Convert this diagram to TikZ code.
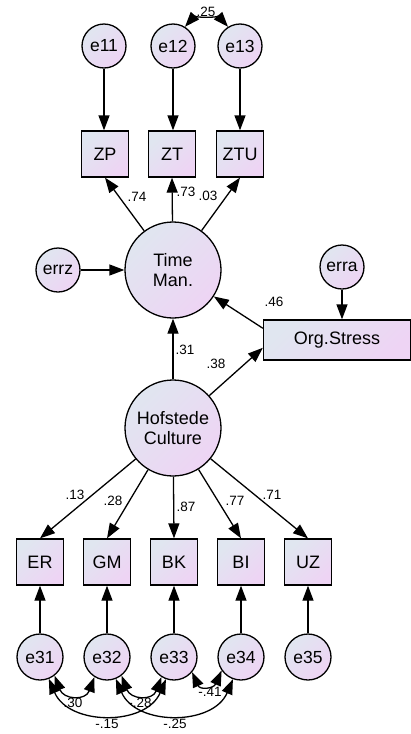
\documentclass[tikz,border=0pt]{standalone}
\usepackage{fontspec}
\setmainfont{Liberation Sans}
\usetikzlibrary{arrows.meta}
\definecolor{fillA}{RGB}{224,230,240}
\definecolor{fillB}{RGB}{238,212,244}
\begin{document}
\begin{tikzpicture}[x=1pt,y=-1pt,
  shadefill/.style={top color=fillA,bottom color=fillB,shading angle=45},
  errnode/.style={circle,draw=black,line width=1.3pt,shadefill,minimum size=44pt,
    inner sep=0pt,font=\fontsize{17.5}{19}\selectfont},
  latent/.style={circle,draw=black,line width=1.3pt,shadefill,minimum size=96pt,
    inner sep=0pt,align=center,font=\fontsize{18}{20}\selectfont},
  obs/.style={rectangle,draw=black,line width=1.3pt,shadefill,minimum width=47pt,
    minimum height=46pt,inner sep=0pt,font=\fontsize{18}{20}\selectfont},
  tip/.tip={Triangle[length=15pt,width=11pt]},
  regpath/.style={line width=1.3pt,-tip},
  cov/.style={line width=1.3pt,tip-tip},
  coef/.style={font=\fontsize{13.5}{15}\selectfont,inner sep=0pt}
]
\useasboundingbox (0,0) rectangle (411,734);

% error terms of the time management indicators
\node[errnode] (e11) at (104,46) {e11};
\node[errnode] (e12) at (173,46) {e12};
\node[errnode] (e13) at (240,46) {e13};

% time management indicators
\node[obs] (zp)  at (105,154) {ZP};
\node[obs] (zt)  at (172,154) {ZT};
\node[obs] (ztu) at (240,154) {ZTU};

% latent variables
\node[latent] (tm)  at (173,270) {Time\\Man.};
\node[latent] (hof) at (173,428) {Hofstede\\Culture};
\node[errnode] (errz) at (58,270) {errz};

% organisational stress
\node[obs,minimum width=147pt,minimum height=40pt] (org) at (337,340) {Org.Stress};
\node[errnode] (erra) at (342,267) {erra};

% culture indicators
\node[obs] (er) at (40,562) {ER};
\node[obs] (gm) at (107,562) {GM};
\node[obs] (bk) at (174,562) {BK};
\node[obs] (bi) at (241,562) {BI};
\node[obs] (uz) at (308,562) {UZ};

% error terms of the culture indicators
\node[errnode,minimum size=46pt] (e31) at (40,657) {e31};
\node[errnode,minimum size=46pt] (e32) at (107,657) {e32};
\node[errnode,minimum size=46pt] (e33) at (174,657) {e33};
\node[errnode,minimum size=46pt] (e34) at (241,657) {e34};
\node[errnode,minimum size=46pt] (e35) at (308,657) {e35};

% errors to indicators
\draw[regpath] (e11) -- (e11 |- zp.north);
\draw[regpath] (e12) -- (e12 |- zt.north);
\draw[regpath] (e13) -- (e13 |- ztu.north);
\draw[regpath] (e31) -- (er.south);
\draw[regpath] (e32) -- (gm.south);
\draw[regpath] (e33) -- (bk.south);
\draw[regpath] (e34) -- (bi.south);
\draw[regpath] (e35) -- (uz.south);
\draw[regpath] (errz) -- (tm);
\draw[regpath] (erra) -- (erra |- org.north);

% loadings of time management
\draw[regpath] (tm) -- (zp.south);
\draw[regpath] (tm) -- (zt.south);
\draw[regpath] (tm) -- (ztu.south);
\node[coef] (l74) at (137,197) {.74};
\node[coef] (l73) at (186,192) {.73};
\node[coef] (l03) at (208,196) {.03};

% structural paths
\draw[regpath] (org.171) -- (tm);
\draw[regpath] (hof) -- (tm);
\draw[regpath] (hof) -- (org.186);
\node[coef] (l46) at (274,302) {.46};
\node[coef] (l31) at (185,350) {.31};
\node[coef] (l38) at (216,364) {.38};

% loadings of culture
\draw[regpath] (hof) -- (er.north);
\draw[regpath] (hof) -- (gm.north);
\draw[regpath] (hof) -- (bk.north);
\draw[regpath] (hof) -- (bi.north);
\draw[regpath] (hof) -- (uz.north);
\node[coef] (l13) at (75,495) {.13};
\node[coef] (l28) at (113,501) {.28};
\node[coef] (l87) at (186,507) {.87};
\node[coef] (l77) at (235,501) {.77};
\node[coef] (l71) at (272,495) {.71};

% covariances
\draw[cov] (e12.58) .. controls +(8,-9) and +(-8,-9) .. (e13.122);
\node[coef] (c25) at (206,12) {.25};

\draw[cov] (e31.-52) .. controls +(9,24) and +(-9,24) .. (e32.-122);
\draw[cov] (e32.-52) .. controls +(9,24) and +(-9,24) .. (e33.-122);
\draw[cov] (e33.-40) .. controls +(8,18) and +(-8,18) .. (e34.-145);
\draw[cov] (e31.-68) .. controls +(20,47) and +(-20,47) .. (e33.-110);
\draw[cov] (e32.-68) .. controls +(20,47) and +(-20,47) .. (e34.-110);
\node[coef] (c30) at (73,703) {.30};
\node[coef] (c28) at (140,703) {-.28};
\node[coef] (c41) at (210,692) {-.41};
\node[coef] (c15) at (107,724) {-.15};
\node[coef] (c25b) at (175,724) {-.25};
\end{tikzpicture}
\end{document}
